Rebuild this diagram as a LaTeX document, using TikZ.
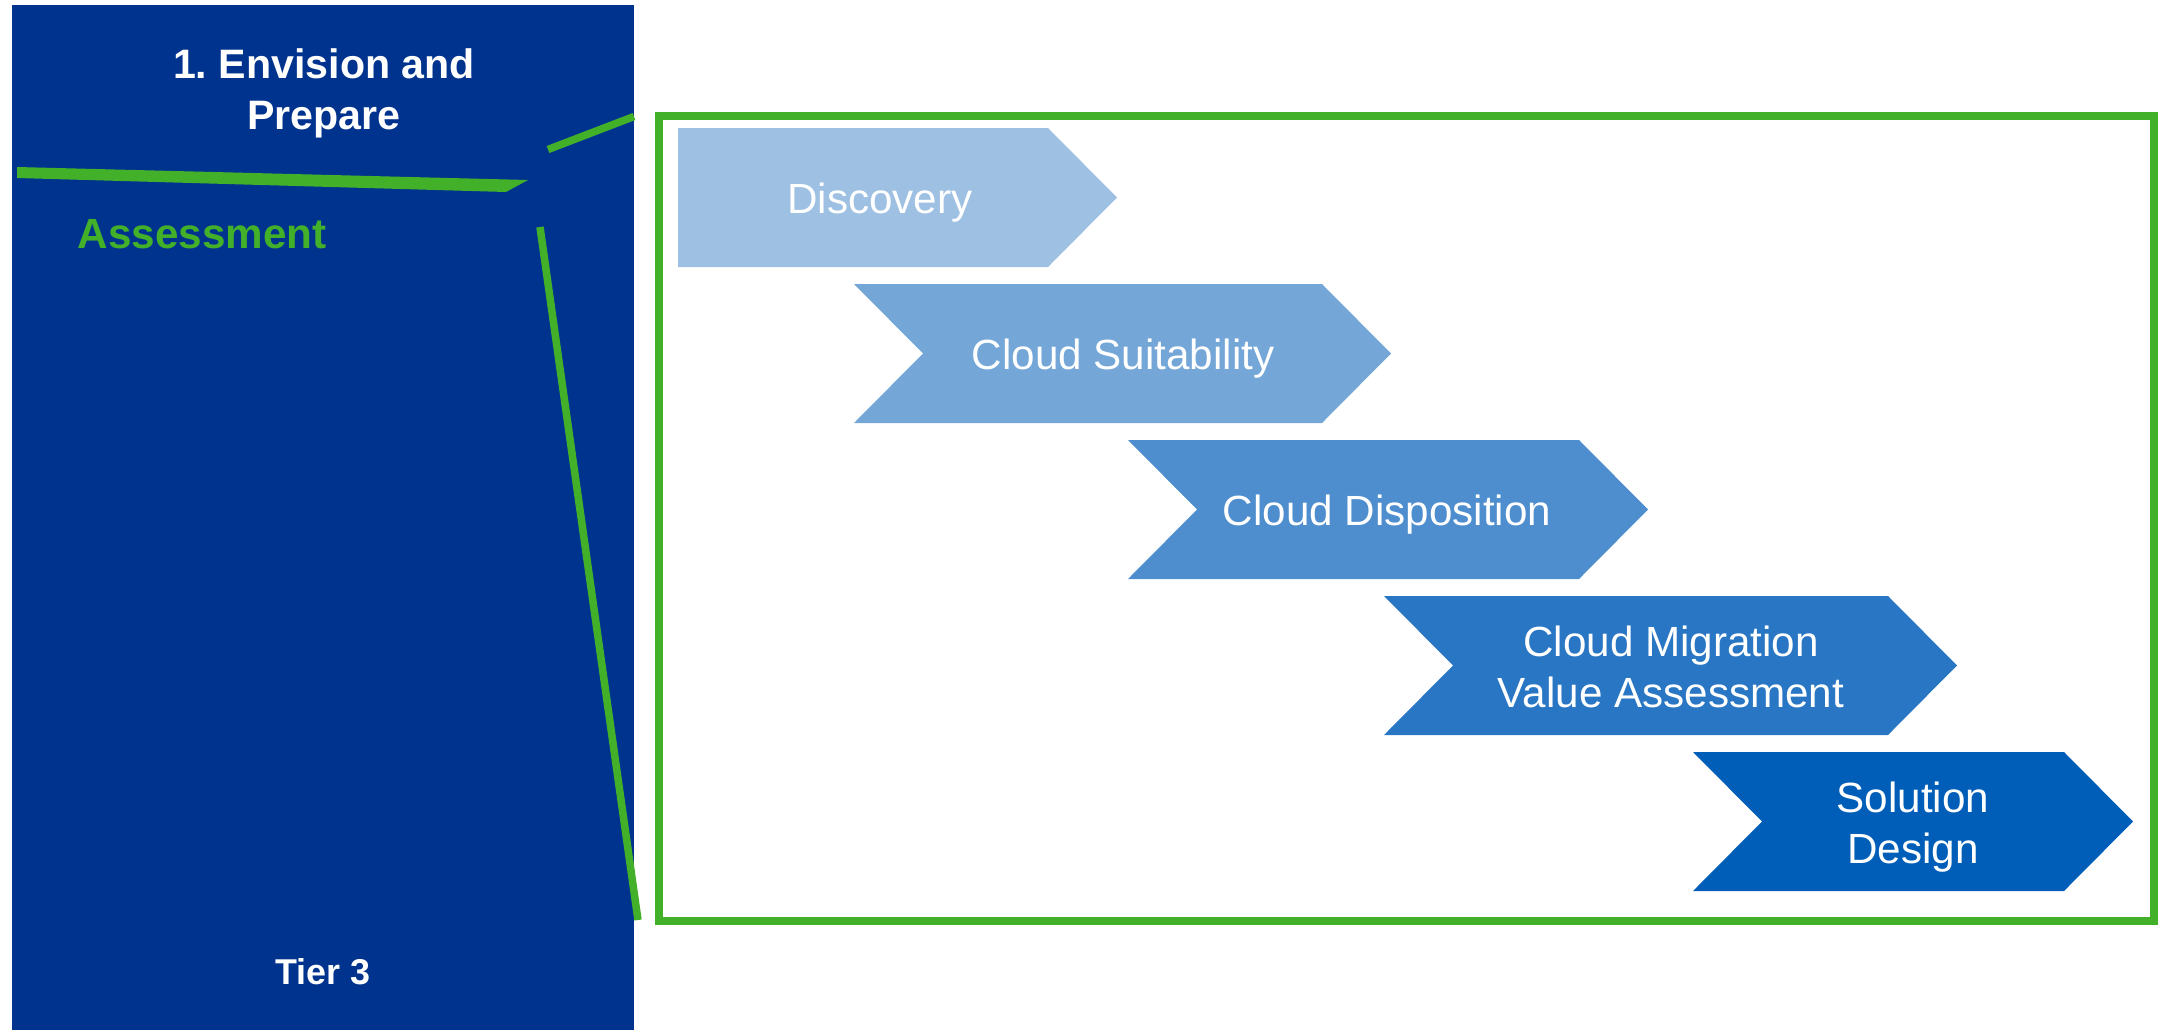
\documentclass[tikz,border=0pt]{standalone}
\usepackage{fontspec}
\setmainfont{Liberation Sans}
\frenchspacing
\definecolor{panelblue}{HTML}{00338D}
\definecolor{kgreen}{HTML}{43B02A}
\definecolor{chevA}{HTML}{9DC0E3}
\definecolor{chevB}{HTML}{74A7D8}
\definecolor{chevC}{HTML}{4E8ECE}
\definecolor{chevD}{HTML}{2876C4}
\definecolor{chevE}{HTML}{005EB8}
\tikzset{
  lbl/.style={inner sep=0pt, text depth=0pt, text=white, align=center,
              font=\fontsize{12pt}{14.5pt}\selectfont},
  boldlbl/.style={lbl, font=\fontsize{11.7pt}{14.5pt}\selectfont\bfseries},
  greenbar/.style={draw=kgreen, line width=0.075cm},
}
\begin{document}
\begin{tikzpicture}[x=0.01cm, y=-0.01cm]
\useasboundingbox (0,0) rectangle (2160,1030);

% left phase panel
\fill[panelblue] (12,5) rectangle (634,1030);
\node[boldlbl] (phase) at (324,89) {1.\ Envision and\\Prepare};
\node[boldlbl, font=\fontsize{10.2pt}{12pt}\selectfont\bfseries] (tier) at (323,971.5) {Tier 3};
\node[lbl, text=kgreen, anchor=west, font=\fontsize{12pt}{14.5pt}\selectfont\bfseries] (assess) at (77,233.5) {Assessment};

% zoom callout strokes
\fill[kgreen] (17,167) -- (528,180) -- (506,192) -- (17,178) -- cycle;
\coordinate (zA) at (548,149.5);
\coordinate (zB) at (634,116.5);
\coordinate (zC) at (540,227);
\coordinate (zD) at (638,920);
\draw[greenbar] (zA) -- (zB);
\draw[greenbar] (zC) -- (zD);

% detail frame
\draw[draw=kgreen, line width=0.08cm] (659,115.5) rectangle (2154,921);

% process chevrons
\fill[chevA] (678,128) -- (1048,128) -- (1117,197.5) -- (1048,267) -- (678,267) -- cycle;
\fill[chevB] (854,284) -- (1322,284) -- (1391,353.5) -- (1322,423) -- (854,423) -- (923,353.5) -- cycle;
\fill[chevC] (1128,440) -- (1579,440) -- (1648,509.5) -- (1579,579) -- (1128,579) -- (1197,509.5) -- cycle;
\fill[chevD] (1384,596) -- (1888,596) -- (1957,665.5) -- (1888,735) -- (1384,735) -- (1453,665.5) -- cycle;
\fill[chevE] (1693,752) -- (2064,752) -- (2133,821.5) -- (2064,891) -- (1693,891) -- (1762,821.5) -- cycle;

\node[lbl] (discovery) at (880,198.5) {Discovery};
\node[lbl] (suit) at (1123,354.5) {Cloud Suitability};
\node[lbl] (dispo) at (1387,510.5) {Cloud Disposition};
\node[lbl] (value) at (1671,666.5) {Cloud Migration\\Value Assessment};
\node[lbl] (design) at (1913,823) {Solution\\Design};
\end{tikzpicture}
\end{document}
